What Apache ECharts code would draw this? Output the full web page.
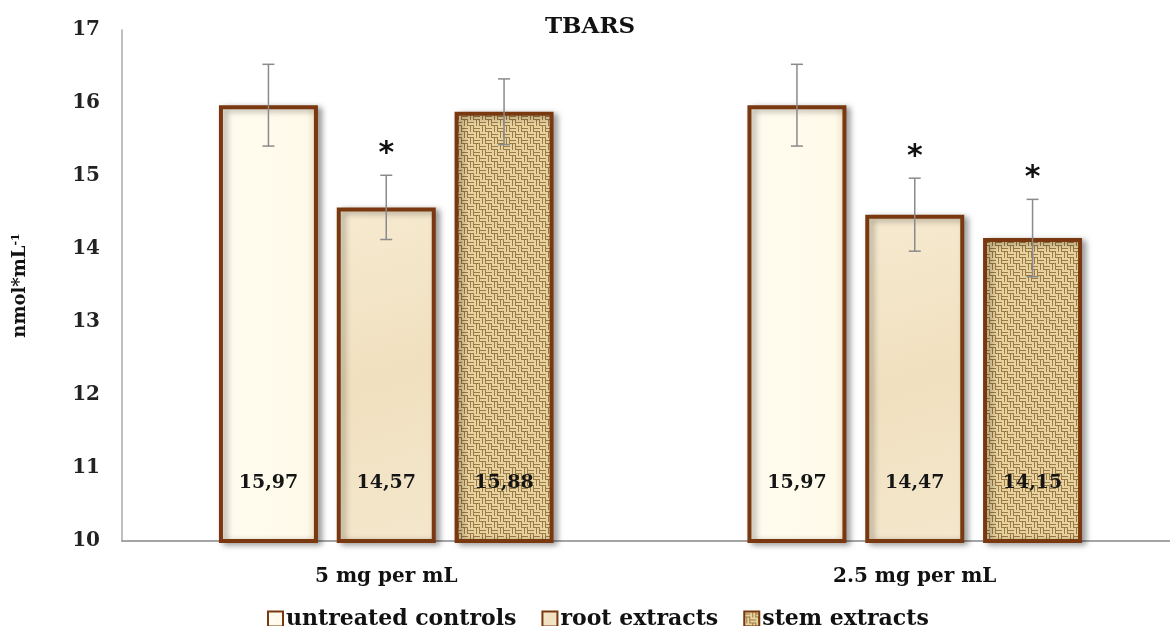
<!DOCTYPE html>
<html>
<head>
<meta charset="utf-8">
<script src="https://cdn.jsdelivr.net/npm/echarts@6/dist/echarts.min.js"></script>
<style>html,body{margin:0;padding:0;background:#fff;overflow:hidden}#c{width:1179px;height:626px}</style>
</head>
<body>
<div id="c"></div>
<script>
// ---- data ----
const categories = ['5 mg per mL', '2.5 mg per mL'];
const seriesNames = ['untreated controls', 'root extracts', 'stem extracts'];
const untreated = [15.97, 15.97];
const root = [14.57, 14.47];
const stem = [15.88, 14.15];
const untreatedErr = [0.56, 0.56];
const rootErr = [0.44, 0.50];
const stemErr = [0.45, 0.53];
const untreatedSig = [false, false];
const rootSig = [true, true];
const stemSig = [false, true];
const yTicks = [10, 11, 12, 13, 14, 15, 16, 17];

// ---- textures (styling only) ----
function burlap() {
  const c = document.createElement('canvas');
  c.width = 12; c.height = 12;
  const g = c.getContext('2d');
  g.fillStyle = '#b8965a'; g.fillRect(0, 0, 12, 12);
  for (let by = 0; by < 2; by++) for (let bx = 0; bx < 2; bx++) {
    const ox = bx * 6, oy = by * 6;
    const horiz = (bx + by) % 2 === 0;
    for (let k = 0; k < 2; k++) {
      g.fillStyle = '#e8d3a0';
      if (horiz) g.fillRect(ox, oy + k * 3, 6, 2); else g.fillRect(ox + k * 3, oy, 2, 6);
      g.fillStyle = '#9a7a45';
      if (horiz) g.fillRect(ox, oy + k * 3 + 2, 6, 1); else g.fillRect(ox + k * 3 + 2, oy, 1, 6);
    }
  }
  return c;
}
const fills = [
  {type: 'linear', x: 0, y: 0, x2: 1, y2: 0, colorStops: [
    {offset: 0, color: '#f8efd6'}, {offset: 0.1, color: '#fffcef'}, {offset: 0.88, color: '#fffaea'}, {offset: 1, color: '#eee1c2'}]},
  {type: 'linear', x: 0, y: 0, x2: 1, y2: 1, colorStops: [
    {offset: 0, color: '#f6ead0'}, {offset: 0.5, color: '#f0e0bf'}, {offset: 1, color: '#f4e7cc'}]},
  {image: burlap(), repeat: 'repeat'}
];

const values = [untreated, root, stem];
const errs = [untreatedErr, rootErr, stemErr];
const sigs = [untreatedSig, rootSig, stemSig];
const BAR_W = 99, GAP = 0.19, STEP = BAR_W * (1 + GAP);
const serif = 'DejaVu Serif';

const series = [];
values.forEach((vals, i) => {
  series.push({
    name: seriesNames[i], type: 'bar', data: vals,
    barWidth: BAR_W, barGap: (GAP * 100) + '%',
    itemStyle: {
      color: fills[i], borderColor: '#7a3810', borderWidth: 4,
      shadowColor: 'rgba(0,0,0,0.35)', shadowBlur: 6, shadowOffsetX: 4, shadowOffsetY: 2
    },
    label: {
      show: true, position: 'insideBottom', distance: 50,
      formatter: p => p.value.toFixed(2).replace('.', ','),
      fontFamily: serif, fontWeight: 'bold', fontSize: 19, color: '#151515'
    }
  });
});
values.forEach((vals, i) => {
  series.push({
    type: 'custom', z: 10, silent: true,
    data: vals.map((v, k) => [k, v, errs[i][k], sigs[i][k] ? 1 : 0]),
    renderItem: (params, api) => {
      const k = api.value(0), v = api.value(1), e = api.value(2), s = api.value(3);
      const x = api.coord([k, v])[0] + (i - 1) * STEP;
      const yt = api.coord([k, v + e])[1];
      const yb = api.coord([k, v - e])[1];
      const st = {stroke: '#8a8a8a', lineWidth: 1.5};
      const ch = [
        {type: 'line', shape: {x1: x, y1: yt, x2: x, y2: yb}, style: st},
        {type: 'line', shape: {x1: x - 6, y1: yt, x2: x + 6, y2: yt}, style: st},
        {type: 'line', shape: {x1: x - 6, y1: yb, x2: x + 6, y2: yb}, style: st}
      ];
      if (s) ch.push({type: 'text', style: {text: '*', x: x, y: yt - 6, align: 'center', verticalAlign: 'bottom',
        font: 'bold 30px "DejaVu Sans"', fill: '#111'}});
      return {type: 'group', children: ch};
    }
  });
});

const chart = echarts.init(document.getElementById('c'));
chart.setOption({
  animation: false,
  title: {text: 'TBARS', left: 540, top: 11,
    textStyle: {fontFamily: serif, fontWeight: 'bold', fontSize: 23, color: '#111'}},
  grid: {left: 122, right: 0, top: 30, bottom: 85, containLabel: false},
  legend: {
    data: seriesNames, left: 262, top: 603, itemWidth: 15, itemHeight: 15, itemGap: 25,
    icon: 'rect',
    itemStyle: {borderColor: '#7a3810', borderWidth: 2},
    textStyle: {fontFamily: serif, fontWeight: 'bold', fontSize: 22, color: '#111', padding: [0, 0, 0, -2]}
  },
  xAxis: {
    type: 'category', data: categories,
    axisLine: {lineStyle: {color: '#888', width: 1.5}}, axisTick: {show: false},
    axisLabel: {fontFamily: serif, fontWeight: 'bold', fontSize: 20, color: '#111', margin: 26}
  },
  yAxis: {
    type: 'value', min: yTicks[0], max: yTicks[yTicks.length - 1], interval: 1,
    splitLine: {show: false}, axisTick: {show: false},
    axisLine: {show: true, lineStyle: {color: '#aaa', width: 1.5}},
    axisLabel: {fontFamily: serif, fontWeight: 'bold', fontSize: 20, color: '#222', margin: 22},
    name: '{b|nmol*mL}{s|-1}', nameLocation: 'middle', nameRotate: 90, nameGap: 92,
    nameTextStyle: {rich: {
      b: {fontFamily: serif, fontWeight: 'bold', fontSize: 18, color: '#111'},
      s: {fontFamily: serif, fontWeight: 'bold', fontSize: 11, color: '#111', verticalAlign: 'top', padding: [0, 0, 8, 0]}
    }}
  },
  series: series
});
</script>
</body>
</html>
